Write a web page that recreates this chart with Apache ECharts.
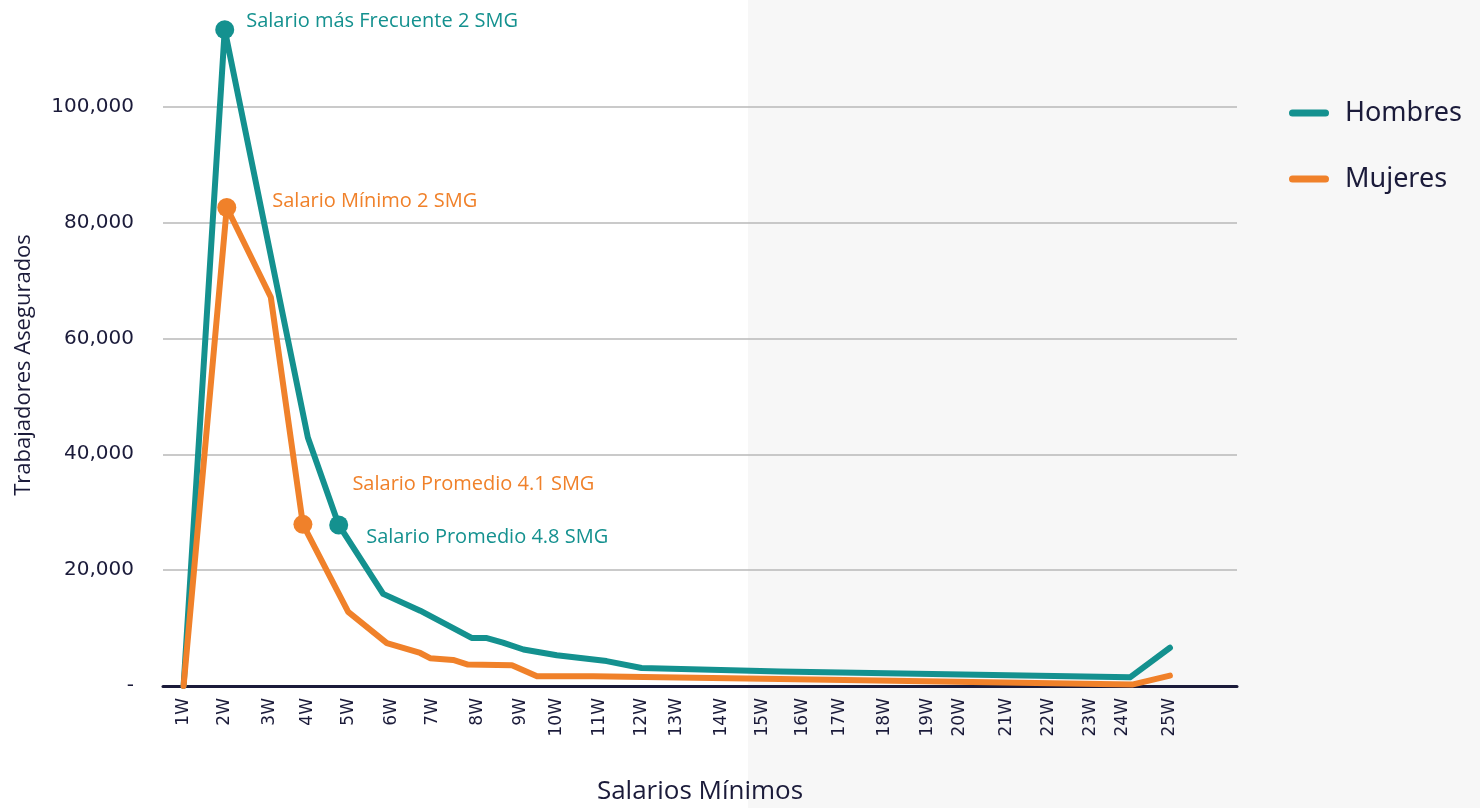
<!DOCTYPE html>
<html>
<head>
<meta charset="utf-8">
<script src="https://cdn.jsdelivr.net/npm/echarts@6/dist/echarts.min.js"></script>
<style>
  html, body { margin: 0; padding: 0; background: #fff; }
  #main { width: 1480px; height: 808px; }
</style>
</head>
<body>
<div id="main"></div>
<script>
// tick labels and where they sit on the axis (in SMG units)
const tickLabels = ['1W', '2W', '3W', '4W', '5W', '6W', '7W', '8W', '9W', '10W', '11W', '12W', '13W',
  '14W', '15W', '16W', '17W', '18W', '19W', '20W', '21W', '22W', '23W', '24W', '25W']
const tickPos = [1.0, 2.0, 3.1, 4.02, 5.02, 6.06, 7.06, 8.15, 9.2, 10.07, 11.1, 12.14, 12.97,
  14.08, 15.08, 16.05, 16.95, 18.04, 19.07, 19.87, 21.01, 22.01, 23.03, 23.83, 24.97]

const hombresX = [1.0, 2.0, 4.02, 4.77, 5.85, 6.75, 8.0, 8.35, 8.76, 9.26, 10.07, 11.28, 12.13, 15.5, 24.0, 24.97]
const hombresY = [0, 113300, 42900, 27800, 15900, 13000, 8300, 8300, 7500, 6300, 5300, 4300, 3100, 2500, 1500, 6600]

const mujeresX = [1.0, 2.05, 3.12, 3.9, 5.0, 5.94, 6.75, 6.99, 7.55, 7.91, 8.98, 9.59, 10.95, 15.49, 24.05, 24.97]
const mujeresY = [0, 82600, 67100, 27900, 12800, 7400, 5700, 4800, 4500, 3700, 3600, 1700, 1700, 1200, 250, 1800]

// highlighted points: [index in the arrays, text]
const hombresNotes = [[1, 'Salario más Frecuente 2 SMG'], [3, 'Salario Promedio 4.8 SMG']]
const mujeresNotes = [[1, 'Salario Mínimo 2 SMG'], [3, 'Salario Promedio 4.1 SMG']]

const TEAL = '#14918f'
const ORANGE = '#f0812a'
const INK = '#1b1b3a'
const annoFont = '"Open Sans", "Noto Sans", sans-serif'

function pairs(xs, ys) {
  return xs.map((x, i) => [x, ys[i]])
}

function thousands(v) {
  if (v === 0) return '-'
  return String(v).replace(/\B(?=(\d{3})+(?!\d))/g, ',')
}

// label offsets for each note
const hombresLabelStyle = [
  { distance: 12, offset: [0, -8] },
  { distance: 18, offset: [0, 12] }
]
const mujeresLabelStyle = [
  { distance: 36, offset: [0, -6] },
  { distance: 40, offset: [0, -40] }
]

function marks(xs, ys, notes, color, styles) {
  return notes.map(([idx, text], k) => ({
    coord: [xs[idx], ys[idx]],
    symbol: 'circle',
    symbolSize: 19,
    itemStyle: { color: color },
    label: {
      show: true,
      position: 'right',
      distance: styles[k].distance,
      offset: styles[k].offset,
      formatter: text,
      color: color,
      fontSize: 20,
      fontFamily: annoFont
    }
  }))
}

const chart = echarts.init(document.getElementById('main'))

const legendIcon = 'path://M3.5,0 L36.5,0 A3.5,3.5 0 0 1 36.5,7 L3.5,7 A3.5,3.5 0 0 1 3.5,0 Z'

chart.setOption({
  animation: false,
  backgroundColor: '#ffffff',
  graphic: [{
    type: 'rect',
    z: -10,
    silent: true,
    shape: { x: 748, y: 0, width: 732, height: 808 },
    style: { fill: '#f7f7f7' }
  }],
  grid: { left: 163, right: 243, top: 14, bottom: 122, outerBoundsMode: 'none' },
  legend: {
    orient: 'vertical',
    left: 1284,
    top: 93,
    itemWidth: 40,
    itemHeight: 7,
    itemGap: 36,
    icon: legendIcon,
    textStyle: {
      fontSize: 27,
      lineHeight: 30,
      color: INK,
      fontFamily: '"Noto Sans", sans-serif',
      padding: [0, 0, 0, 11]
    },
    data: ['Hombres', 'Mujeres']
  },
  xAxis: {
    type: 'value',
    min: 0.5,
    max: 26.6,
    name: 'Salarios Mínimos',
    nameLocation: 'middle',
    nameGap: 93,
    nameTextStyle: { fontSize: 26, color: INK, fontFamily: annoFont },
    axisLine: { show: true, onZero: true, lineStyle: { color: INK, width: 3 } },
    axisTick: { show: false },
    splitLine: { show: false },
    axisLabel: {
      customValues: tickPos,
      rotate: 90,
      margin: 12,
      fontSize: 17,
      color: INK,
      fontFamily: '"DejaVu Sans", sans-serif',
      formatter: (v) => {
        let best = 0
        tickPos.forEach((p, i) => {
          if (Math.abs(p - v) < Math.abs(tickPos[best] - v)) best = i
        })
        return tickLabels[best]
      }
    }
  },
  yAxis: {
    type: 'value',
    min: 0,
    max: 116000,
    interval: 20000,
    name: 'Trabajadores Asegurados',
    nameLocation: 'middle',
    nameGap: 128,
    nameTextStyle: { fontSize: 22, color: INK, fontFamily: annoFont, padding: [0, 30, 0, 0] },
    axisLine: { show: false },
    axisTick: { show: false },
    axisLabel: {
      margin: 29,
      fontSize: 20,
      color: INK,
      fontFamily: '"DejaVu Sans", sans-serif',
      showMaxLabel: false,
      formatter: thousands
    },
    splitLine: { show: true, showMaxLine: false, lineStyle: { color: '#b8b8b8', width: 1.5 } }
  },
  series: [
    {
      name: 'Hombres',
      type: 'line',
      data: pairs(hombresX, hombresY),
      symbol: 'none',
      color: TEAL,
      lineStyle: { width: 6, color: TEAL, cap: 'round', join: 'round' },
      z: 3,
      markPoint: { data: marks(hombresX, hombresY, hombresNotes, TEAL, hombresLabelStyle) }
    },
    {
      name: 'Mujeres',
      type: 'line',
      data: pairs(mujeresX, mujeresY),
      symbol: 'none',
      color: ORANGE,
      lineStyle: { width: 6, color: ORANGE, cap: 'round', join: 'round' },
      z: 4,
      markPoint: { data: marks(mujeresX, mujeresY, mujeresNotes, ORANGE, mujeresLabelStyle) }
    }
  ]
})
</script>
</body>
</html>
